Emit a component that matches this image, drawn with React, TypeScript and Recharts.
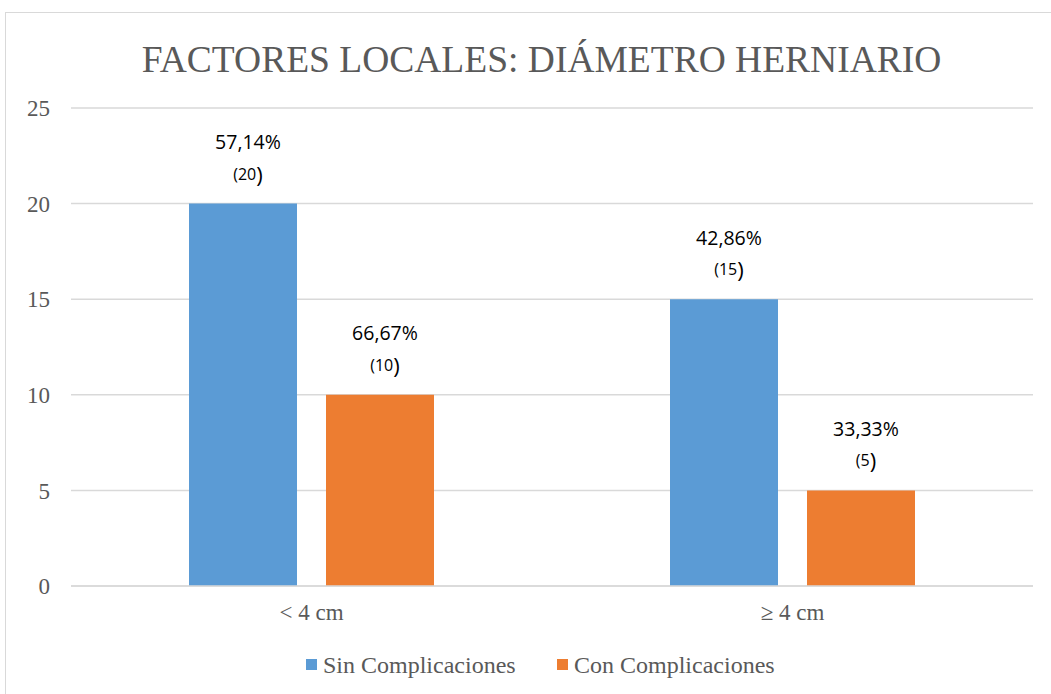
import React from "react";
import { BarChart, Bar, XAxis, YAxis, CartesianGrid, Legend, LabelList, Text } from "recharts";

const categories = ["< 4 cm", "≥ 4 cm"];
const sinValues = [20, 15];
const conValues = [10, 5];
const sinPct = ["57,14%", "42,86%"];
const conPct = ["66,67%", "33,33%"];
const yTicks = [0, 5, 10, 15, 20, 25];

const seriesNames = ["Sin Complicaciones", "Con Complicaciones"];
const seriesColors = ["#5B9BD5", "#ED7D31"];
const title = "FACTORES LOCALES: DIÁMETRO HERNIARIO";

const serif = "Liberation Serif";
const sans = "Open Sans";
const grey = "#595959";

const data = categories.map((c, i) => ({ cat: c, sin: sinValues[i], con: conValues[i] }));

// two-line label above each bar: percentage, then (count)
const makeLabel = (pcts: string[]) => (props: any) => {
  const { x, y, width, index, value } = props;
  const cx = Number(x) + Number(width) / 2 + 5;
  const top = Number(y);
  return (
    <g>
      <text x={cx} y={top - 62} textAnchor="middle" dominantBaseline="central" fontFamily={sans} fontSize={19.5} fill="#000">
        {pcts[index]}
      </text>
      <text x={cx} y={top - 30} textAnchor="middle" dominantBaseline="central" fontFamily={sans} fill="#000">
        <tspan fontSize={16}>({value}</tspan>
        <tspan fontSize={22}>)</tspan>
      </text>
    </g>
  );
};

// legend item x offsets (square left edge)
const legendX = [306, 557];

const renderLegend = () => (
  <svg width={1051} height={40} style={{ display: "block", overflow: "visible" }}>
    {seriesNames.map((n, i) => (
      <g key={n}>
        <rect x={legendX[i]} y={13} width={11} height={11} fill={seriesColors[i]} />
        <text x={legendX[i] + 17} y={19} dominantBaseline="central" fontFamily={serif} fontSize={24} fill={grey}>
          {n}
        </text>
      </g>
    ))}
  </svg>
);

export default function App() {
  return (
    <div style={{ position: "absolute", left: 0, top: 0, width: 1051, height: 694, background: "#fff", overflow: "hidden" }}>
      <div style={{ position: "absolute", left: 5, top: 12, width: 1080, height: 720, border: "1px solid #d9d9d9" }} />
      <div style={{ position: "absolute", left: 0, top: 0 }}>
        <BarChart width={1051} height={694} data={data} margin={{ top: 108, right: 18, left: 1, bottom: 8 }} barGap={29}>
          <CartesianGrid vertical={false} stroke="#d9d9d9" strokeWidth={1.5} />
          <XAxis dataKey="cat" tickLine={false} tickSize={0} tickMargin={18} height={60} axisLine={{ stroke: "#d9d9d9", strokeWidth: 1.5 }} tick={{ fill: grey, fontSize: 23, fontFamily: serif }} />
          <YAxis domain={[0, 25]} ticks={yTicks} width={70} tickLine={false} axisLine={false} tickSize={0} tickMargin={21} tick={{ fill: grey, fontSize: 23, fontFamily: serif }} />
          <Legend verticalAlign="bottom" content={renderLegend} wrapperStyle={{ left: 0, width: 1051 }} />
          <Bar dataKey="sin" name={seriesNames[0]} fill={seriesColors[0]} barSize={108} isAnimationActive={false}>
            <LabelList dataKey="sin" content={makeLabel(sinPct)} />
          </Bar>
          <Bar dataKey="con" name={seriesNames[1]} fill={seriesColors[1]} barSize={108} isAnimationActive={false}>
            <LabelList dataKey="con" content={makeLabel(conPct)} />
          </Bar>
          <Text x={541.5} y={72} textAnchor="middle" fontFamily={serif} fontSize={37.5} fill={grey}>
            {title}
          </Text>
        </BarChart>
      </div>
    </div>
  );
}
